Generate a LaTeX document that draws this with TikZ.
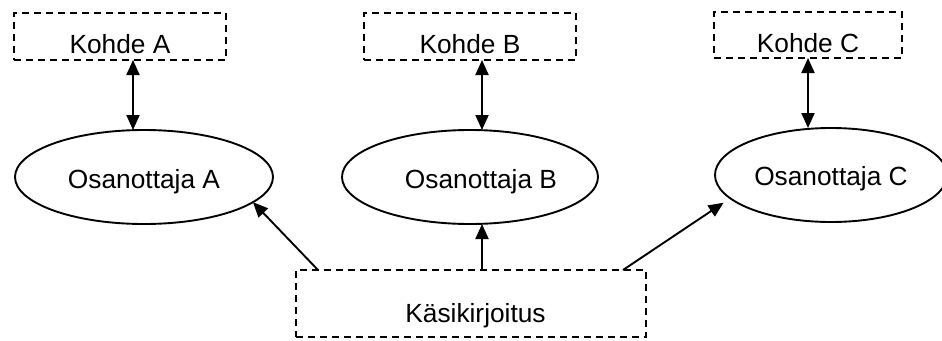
\documentclass[tikz,border=0pt]{standalone}
\usepackage{fontspec}
\setmainfont{Liberation Sans}
\usetikzlibrary{arrows.meta,shapes.geometric,calc}
\begin{document}
\begin{tikzpicture}[x=1pt,y=-1pt,
  every node/.style={font=\fontsize{26.3}{30}\selectfont, inner sep=0pt, outer sep=0pt},
  target/.style={draw, dash pattern=on 7pt off 5pt, line width=1.9pt, rectangle, text height=40pt, text depth=7pt, minimum width=212pt},
  party/.style={draw, ellipse, line width=1.9pt, text height=22pt, text depth=0pt, minimum height=94pt},
  arr/.style={line width=1.9pt, -{Triangle[length=15pt,width=13pt]}},
  darr/.style={line width=1.9pt, {Triangle[length=15pt,width=13pt]}-{Triangle[length=15pt,width=13pt]}}]
\clip (0,0) rectangle (942,340);
% targets
\node[target] (ka) at (120,36.5) {Kohde A\hspace{4pt}};
\node[target] (kb) at (470,36.5) {Kohde B\hspace{29pt}};
\node[target, minimum width=188pt, text depth=6pt] (kc) at (808,35) {Kohde C\hspace{29pt}};
% participants
\node[party, minimum width=258pt] (oa) at (144,177) {Osanottaja A};
\node[party, minimum width=256pt] (ob) at (470,177) {\hspace{22pt}Osanottaja B};
\node[party, minimum width=232pt, text height=20pt] (oc) at (831,175) {Osanottaja C\hspace{23pt}};
% manuscript
\node[target, minimum width=350pt, text height=52pt, text depth=15pt] (kas) at (471,303.5) {\hspace{9pt}Käsikirjoitus};
% connectors
\coordinate (pa) at ($(ka.south)+(13,0)$);
\coordinate (pb) at ($(kb.south)+(12,0)$);
\draw[darr] (pa) -- (pa |- oa.north);
\draw[darr] (pb) -- (pb |- ob.north);
\draw[darr] (kc.south) -- (kc.south |- oc.north);
\coordinate (qa) at ($(kas.north west)+(22,0)$);
\coordinate (qb) at ($(kas.north)+(11,0)$);
\coordinate (qc) at ($(kas.north east)+(-23,0)$);
\draw[arr] (qa) -- (oa.-13);
\draw[arr] (qb) -- (qb |- ob.south);
\draw[arr, shorten >=8pt] (qc) -- (oc.193);
\end{tikzpicture}
\end{document}
